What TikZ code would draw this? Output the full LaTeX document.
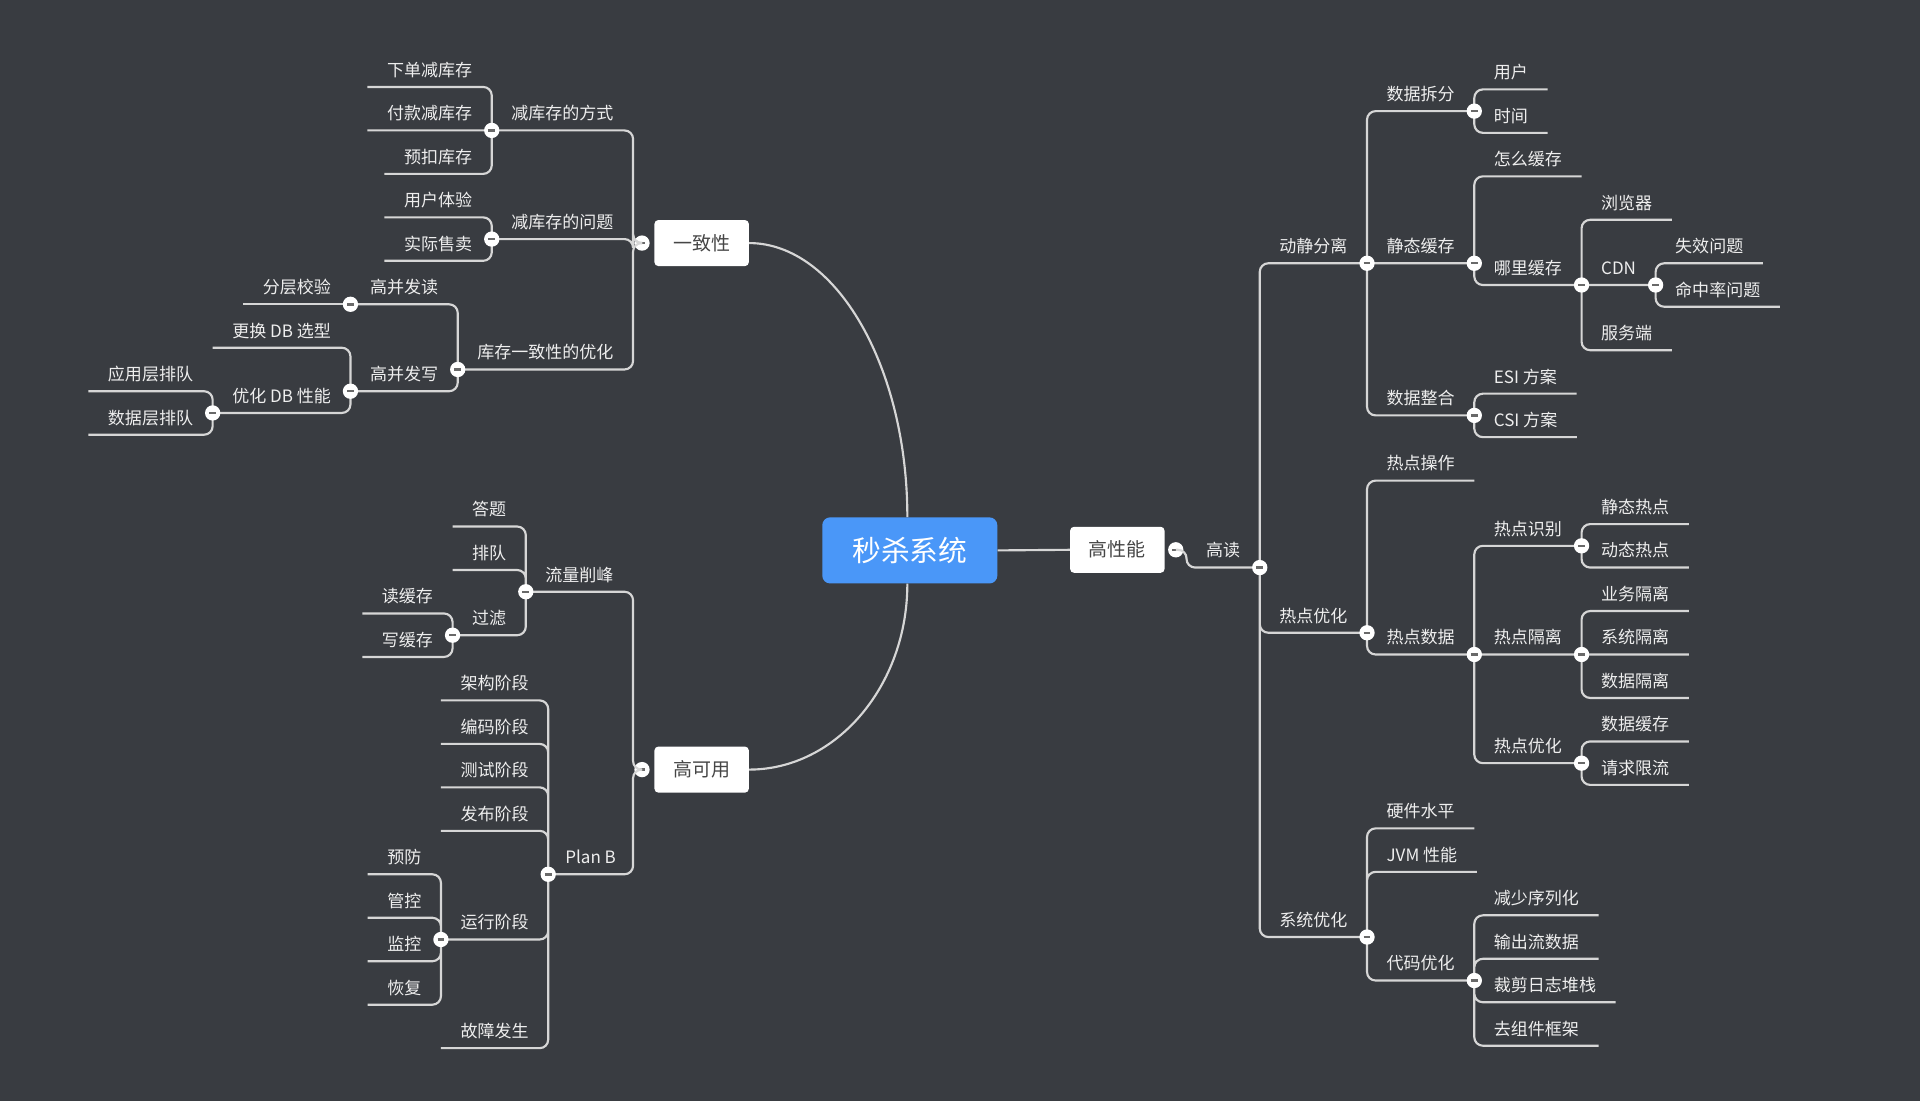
\documentclass[tikz,border=0pt]{standalone}
\usepackage{fontspec}
\setmainfont{Noto Sans CJK SC}
\usepackage{tikz}
\usetikzlibrary{calc,positioning}

\definecolor{bgcol}{RGB}{57,60,65}
\definecolor{linecol}{RGB}{214,214,214}
\definecolor{txtcol}{RGB}{238,238,238}
\definecolor{rootcol}{RGB}{74,151,248}
\definecolor{boxtxt}{RGB}{70,70,70}
\definecolor{foldcol}{RGB}{105,105,105}

\begin{document}
\begin{tikzpicture}[x=1pt,y=-1pt]
      \tikzset{
	  topic/.style={text=txtcol, font=\fontsize{13.9}{16}\selectfont, inner xsep=16pt, inner ysep=7pt, text height=12.1pt, text depth=1.7pt, outer sep=0pt},
	  rtopic/.style={topic, anchor=south west},
	  ltopic/.style={topic, anchor=south east},
	  link/.style={draw=linecol, line width=1.75pt, rounded corners=7pt},
	  fold/.style={circle, fill=white, inner sep=0pt, minimum size=12.5pt, path picture={\draw[foldcol, line width=2pt] ([xshift=-2.8pt]path picture bounding box.center) -- ([xshift=2.8pt]path picture bounding box.center);}},
	  mainbox/.style={rounded corners=3pt, fill=white, text=boxtxt, font=\fontsize{15.5}{18}\selectfont, text height=13.6pt, text depth=1.9pt, minimum width=77pt, minimum height=37.5pt, inner sep=0pt},
	  rootbox/.style={rounded corners=6.5pt, fill=rootcol, text=white, font=\fontsize{23.5}{26}\selectfont, text height=20.7pt, text depth=2.8pt, minimum width=143pt, minimum height=54pt, inner sep=0pt}
      }

      \useasboundingbox (0,0) rectangle (1568,899);
      \fill[bgcol] (0,0) rectangle (1568,899);

      %-----root and the three main topics
      \node[rootbox] (root) at (743,449.5) {秒杀系统};
      \node[mainbox] (yzx) at (573,198.5) {一致性};
      \node[mainbox] (gky) at (573,628.5) {高可用};
      \node[mainbox] (gxn) at (912.5,449) {高性能};

      %-----right side: 高性能
      \node[rtopic] (gd) at (969,463.5) {高读};
      \node[rtopic] (djfl) at (gd.south east |- 0,215) {动静分离};
      \node[rtopic] (sjcf) at (djfl.south east |- 0,90.75) {数据拆分};
      \node[rtopic] (yh) at (sjcf.south east |- 0,73) {用户};
      \node[rtopic] (sj) at (sjcf.south east |- 0,108.5) {时间};
      \node[rtopic] (jthc) at (djfl.south east |- 0,215) {静态缓存};
      \node[rtopic] (zmhc) at (jthc.south east |- 0,144) {怎么缓存};
      \node[rtopic] (nlhc) at (jthc.south east |- 0,232.75) {哪里缓存};
      \node[rtopic] (llq) at (nlhc.south east |- 0,179.5) {浏览器};
      \node[rtopic] (cdn) at (nlhc.south east |- 0,232.75) {CDN};
      \node[rtopic] (sxwt) at (cdn.south east |- 0,215) {失效问题};
      \node[rtopic] (mzl) at (cdn.south east |- 0,250.5) {命中率问题};
      \node[rtopic] (fwd) at (nlhc.south east |- 0,286) {服务端};
      \node[rtopic] (sjzh) at (djfl.south east |- 0,339.25) {数据整合};
      \node[rtopic] (esi) at (sjzh.south east |- 0,321.5) {ESI 方案};
      \node[rtopic] (csi) at (sjzh.south east |- 0,357) {CSI 方案};

      \node[rtopic] (rdyh) at (gd.south east |- 0,516.75) {热点优化};
      \node[rtopic] (rdcz) at (rdyh.south east |- 0,392.5) {热点操作};
      \node[rtopic] (rdsj) at (rdyh.south east |- 0,534.5) {热点数据};
      \node[rtopic] (rdsb) at (rdsj.south east |- 0,445.75) {热点识别};
      \node[rtopic] (jtrd) at (rdsb.south east |- 0,428) {静态热点};
      \node[rtopic] (dtrd) at (rdsb.south east |- 0,463.5) {动态热点};
      \node[rtopic] (rdgl) at (rdsj.south east |- 0,534.5) {热点隔离};
      \node[rtopic] (ywgl) at (rdgl.south east |- 0,499) {业务隔离};
      \node[rtopic] (xtgl) at (rdgl.south east |- 0,534.5) {系统隔离};
      \node[rtopic] (sjgl) at (rdgl.south east |- 0,570) {数据隔离};
      \node[rtopic] (rdyh2) at (rdsj.south east |- 0,623.25) {热点优化};
      \node[rtopic] (sjhc) at (rdyh2.south east |- 0,605.5) {数据缓存};
      \node[rtopic] (qqxl) at (rdyh2.south east |- 0,641) {请求限流};

      \node[rtopic] (xtyh) at (gd.south east |- 0,765.25) {系统优化};
      \node[rtopic] (yjsp) at (xtyh.south east |- 0,676.5) {硬件水平};
      \node[rtopic] (jvm) at (xtyh.south east |- 0,712) {JVM 性能};
      \node[rtopic] (dmyh) at (xtyh.south east |- 0,800.75) {代码优化};
      \node[rtopic] (jsxl) at (dmyh.south east |- 0,747.5) {减少序列化};
      \node[rtopic] (sclsj) at (dmyh.south east |- 0,783) {输出流数据};
      \node[rtopic] (cjrz) at (dmyh.south east |- 0,818.5) {裁剪日志堆栈};
      \node[rtopic] (qzj) at (dmyh.south east |- 0,854) {去组件框架};

      %-----left top: 一致性
      \node[ltopic] (jkcfs) at (517,106.5) {减库存的方式};
      \node[ltopic] (xdjkc) at (jkcfs.south west |- 0,71) {下单减库存};
      \node[ltopic] (fkjkc) at (jkcfs.south west |- 0,106.5) {付款减库存};
      \node[ltopic] (ykkc) at (jkcfs.south west |- 0,142) {预扣库存};
      \node[ltopic] (jkcwt) at (517,195.25) {减库存的问题};
      \node[ltopic] (yhty) at (jkcwt.south west |- 0,177.5) {用户体验};
      \node[ltopic] (sjss) at (jkcwt.south west |- 0,213) {实际售卖};
      \node[ltopic] (kcyh) at (517,301.75) {库存一致性的优化};
      \node[ltopic] (gbfd) at (kcyh.south west |- 0,248.5) {高并发读};
      \node[ltopic] (fcjy) at (gbfd.south west |- 0,248.5) {分层校验};
      \node[ltopic] (gbfx) at (kcyh.south west |- 0,319.5) {高并发写};
      \node[ltopic] (ghdb) at (gbfx.south west |- 0,284) {更换 DB 选型};
      \node[ltopic] (yhdb) at (gbfx.south west |- 0,337.25) {优化 DB 性能};
      \node[ltopic] (yycpd) at (yhdb.south west |- 0,319.5) {应用层排队};
      \node[ltopic] (sjcpd) at (yhdb.south west |- 0,355) {数据层排队};

      %-----left bottom: 高可用
      \node[ltopic] (llxf) at (517,483.25) {流量削峰};
      \node[ltopic] (dt) at (llxf.south west |- 0,430) {答题};
      \node[ltopic] (pd) at (llxf.south west |- 0,465.5) {排队};
      \node[ltopic] (gl) at (llxf.south west |- 0,518.75) {过滤};
      \node[ltopic] (dhc) at (gl.south west |- 0,501) {读缓存};
      \node[ltopic] (xhc) at (gl.south west |- 0,536.5) {写缓存};
      \node[ltopic, inner xsep=14pt] (planb) at (517,714) {Plan B};
      \node[ltopic] (jgjd) at (planb.south west |- 0,572) {架构阶段};
      \node[ltopic] (bmjd) at (planb.south west |- 0,607.5) {编码阶段};
      \node[ltopic] (csjd) at (planb.south west |- 0,643) {测试阶段};
      \node[ltopic] (fbjd) at (planb.south west |- 0,678.5) {发布阶段};
      \node[ltopic] (yxjd) at (planb.south west |- 0,767.25) {运行阶段};
      \node[ltopic] (yf) at (yxjd.south west |- 0,714) {预防};
      \node[ltopic] (gk) at (yxjd.south west |- 0,749.5) {管控};
      \node[ltopic] (jk) at (yxjd.south west |- 0,785) {监控};
      \node[ltopic] (hf) at (yxjd.south west |- 0,820.5) {恢复};
      \node[ltopic] (gzfs) at (planb.south west |- 0,856) {故障发生};

      %-----fold markers
      \node[fold] (gxn-f) at ([xshift=9pt]gxn.east) {};
      \node[fold] (yzx-f) at ([xshift=-10pt]yzx.west) {};
      \node[fold] (gky-f) at ([xshift=-10pt]gky.west) {};

      %-----root links
      \draw[link] (root.east) -- (gxn.west);
      \draw[link] ([xshift=-2pt]root.north) .. controls (741,300) and (683,198.5) .. (yzx.east);
      \draw[link] ([xshift=-2pt]root.south) .. controls (741,560) and (683,628.5) .. (gky.east);

      %-----right links
      \draw[link] (gxn-f.center) -| (gd.south west) -- (gd.south east);
      \draw[link] (gd.south east) |- (djfl.south east) (gd.south east) |- (rdyh.south east) (gd.south east) |- (xtyh.south east);
      \draw[link] (djfl.south east) |- (sjcf.south east) (djfl.south east) -- (jthc.south east) (djfl.south east) |- (sjzh.south east);
      \draw[link] (sjcf.south east) |- (yh.south east) (sjcf.south east) |- (sj.south east);
      \draw[link] (jthc.south east) |- (zmhc.south east) (jthc.south east) |- (nlhc.south east);
      \draw[link] (nlhc.south east) |- (llq.south east) (nlhc.south east) -- (cdn.south east) (nlhc.south east) |- (fwd.south east);
      \draw[link] (cdn.south east) |- (sxwt.south east) (cdn.south east) |- (mzl.south east);
      \draw[link] (sjzh.south east) |- (esi.south east) (sjzh.south east) |- (csi.south east);
      \draw[link] (rdyh.south east) |- (rdcz.south east) (rdyh.south east) |- (rdsj.south east);
      \draw[link] (rdsj.south east) |- (rdsb.south east) (rdsj.south east) -- (rdgl.south east) (rdsj.south east) |- (rdyh2.south east);
      \draw[link] (rdsb.south east) |- (jtrd.south east) (rdsb.south east) |- (dtrd.south east);
      \draw[link] (rdgl.south east) |- (ywgl.south east) (rdgl.south east) -- (xtgl.south east) (rdgl.south east) |- (sjgl.south east);
      \draw[link] (rdyh2.south east) |- (sjhc.south east) (rdyh2.south east) |- (qqxl.south east);
      \draw[link] (xtyh.south east) |- (yjsp.south east) (xtyh.south east) |- (jvm.south east) (xtyh.south east) |- (dmyh.south east);
      \draw[link] (dmyh.south east) |- (jsxl.south east) (dmyh.south east) |- (sclsj.south east) (dmyh.south east) |- (cjrz.south east) (dmyh.south east) |- (qzj.south east);

      %-----left links
      \draw[link] (yzx-f.center) -| (jkcfs.south east) -- (jkcfs.south west);
      \draw[link] (yzx-f.center) -| (jkcwt.south east) -- (jkcwt.south west);
      \draw[link] (yzx-f.center) -| (kcyh.south east) -- (kcyh.south west);
      \draw[link] (jkcfs.south west) |- (xdjkc.south west) (jkcfs.south west) -- (fkjkc.south west) (jkcfs.south west) |- (ykkc.south west);
      \draw[link] (jkcwt.south west) |- (yhty.south west) (jkcwt.south west) |- (sjss.south west);
      \draw[link] (kcyh.south west) |- (gbfd.south west) (kcyh.south west) |- (gbfx.south west);
      \draw[link] (gbfd.south west) -- (fcjy.south west);
      \draw[link] (gbfx.south west) |- (ghdb.south west) (gbfx.south west) |- (yhdb.south west);
      \draw[link] (yhdb.south west) |- (yycpd.south west) (yhdb.south west) |- (sjcpd.south west);

      \draw[link] (gky-f.center) -| (llxf.south east) -- (llxf.south west);
      \draw[link] (gky-f.center) -| (planb.south east) -- (planb.south west);
      \draw[link] (llxf.south west) |- (dt.south west) (llxf.south west) |- (pd.south west) (llxf.south west) |- (gl.south west);
      \draw[link] (gl.south west) |- (dhc.south west) (gl.south west) |- (xhc.south west);
      \draw[link] (planb.south west) |- (jgjd.south west) (planb.south west) |- (bmjd.south west) (planb.south west) |- (csjd.south west) (planb.south west) |- (fbjd.south west) (planb.south west) |- (yxjd.south west) (planb.south west) |- (gzfs.south west);
      \draw[link] (yxjd.south west) |- (yf.south west) (yxjd.south west) |- (gk.south west) (yxjd.south west) |- (jk.south west) (yxjd.south west) |- (hf.south west);

      %-----fold markers on the branch points
      \node[fold] (gd-f) at (gd.south east) {};
      \node[fold] (djfl-f) at (djfl.south east) {};
      \node[fold] (sjcf-f) at (sjcf.south east) {};
      \node[fold] (jthc-f) at (jthc.south east) {};
      \node[fold] (nlhc-f) at (nlhc.south east) {};
      \node[fold] (cdn-f) at (cdn.south east) {};
      \node[fold] (sjzh-f) at (sjzh.south east) {};
      \node[fold] (rdyh-f) at (rdyh.south east) {};
      \node[fold] (rdsj-f) at (rdsj.south east) {};
      \node[fold] (rdsb-f) at (rdsb.south east) {};
      \node[fold] (rdgl-f) at (rdgl.south east) {};
      \node[fold] (rdyh2-f) at (rdyh2.south east) {};
      \node[fold] (xtyh-f) at (xtyh.south east) {};
      \node[fold] (dmyh-f) at (dmyh.south east) {};
      \node[fold] (jkcfs-f) at (jkcfs.south west) {};
      \node[fold] (jkcwt-f) at (jkcwt.south west) {};
      \node[fold] (kcyh-f) at (kcyh.south west) {};
      \node[fold] (gbfd-f) at (gbfd.south west) {};
      \node[fold] (gbfx-f) at (gbfx.south west) {};
      \node[fold] (yhdb-f) at (yhdb.south west) {};
      \node[fold] (llxf-f) at (llxf.south west) {};
      \node[fold] (gl-f) at (gl.south west) {};
      \node[fold] (planb-f) at (planb.south west) {};
      \node[fold] (yxjd-f) at (yxjd.south west) {};
    \end{tikzpicture}
\end{document}
